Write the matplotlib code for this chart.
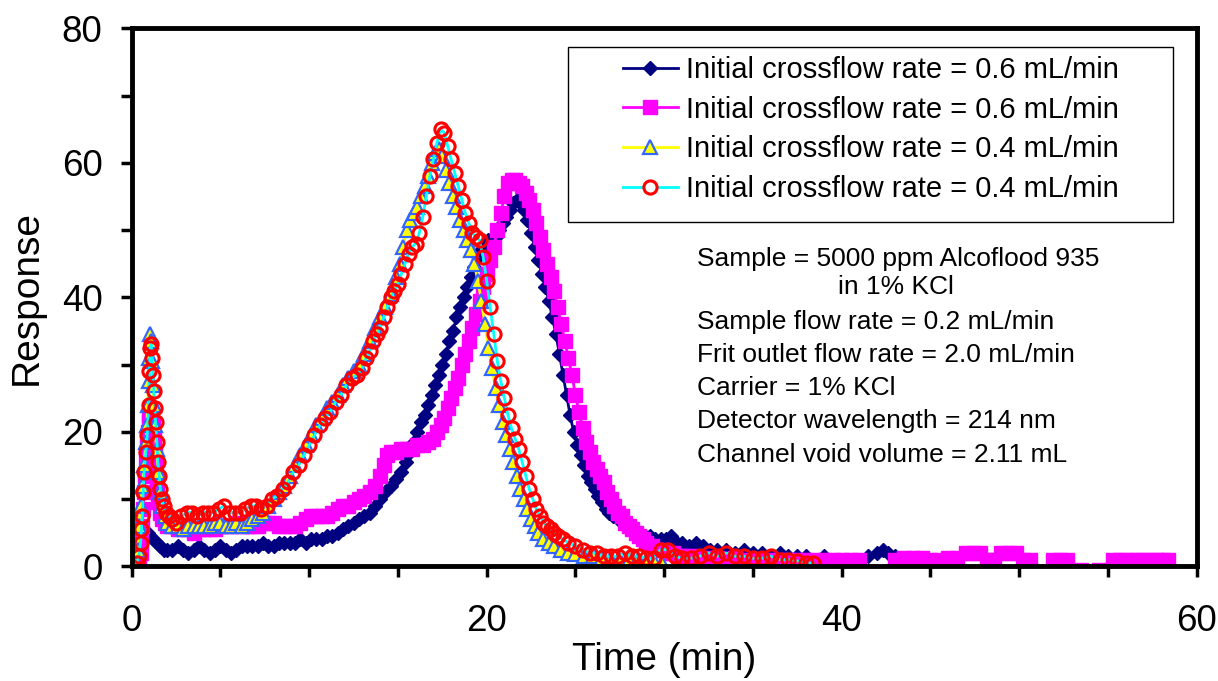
import numpy as np
import matplotlib
matplotlib.use("Agg")
import matplotlib.pyplot as plt
from matplotlib.lines import Line2D
from matplotlib.patches import Rectangle
from matplotlib.ticker import MultipleLocator

plt.rcParams['font.family'] = ['Liberation Sans', 'DejaVu Sans']

# --- data (time in min, detector response) ---
labels = ['Initial crossflow rate = 0.6 mL/min',
          'Initial crossflow rate = 0.6 mL/min',
          'Initial crossflow rate = 0.4 mL/min',
          'Initial crossflow rate = 0.4 mL/min']

navy_t = [0.4, 0.5, 0.6, 0.75, 0.9, 1.05, 1.2, 1.4, 1.6, 1.8,
          2.0, 2.3, 2.6, 2.9, 3.2, 3.5, 3.8, 4.1, 4.4, 4.7,
          5.0, 5.3, 5.6, 5.9, 6.2, 6.5, 6.8, 7.1, 7.4, 7.7,
          8.0, 8.3, 8.6, 8.9, 9.2, 9.5, 9.8, 10.1, 10.4, 10.7,
          11.0, 11.3, 11.6, 11.9, 12.2, 12.5, 12.8, 13.1, 13.4, 13.7,
          14.0, 14.3, 14.6, 14.9, 15.2, 15.45, 15.7, 15.9, 16.1, 16.3,
          16.5, 16.7, 16.9, 17.1, 17.3, 17.5, 17.7, 17.9, 18.1, 18.3,
          18.5, 18.7, 18.9, 19.1, 19.3, 19.5, 19.7, 19.9, 20.1, 20.3,
          20.5, 20.7, 20.9, 21.1, 21.3, 21.5, 21.7, 21.9, 22.1, 22.3,
          22.5, 22.7, 22.9, 23.1, 23.3, 23.5, 23.7, 23.9, 24.1, 24.3,
          24.5, 24.7, 24.9, 25.1, 25.3, 25.5, 25.7, 25.9, 26.1, 26.3,
          26.5, 26.7, 26.9, 27.1, 27.4, 27.7, 28.0, 28.3, 28.6, 28.9,
          29.2, 29.5, 29.8, 30.1, 30.4, 30.7, 31.0, 31.4, 31.8, 32.2,
          32.6, 33.0, 33.5, 34.0, 34.5, 35.0, 35.5, 36.0, 36.5, 37.0,
          37.5, 38.0, 38.5, 39.0, 39.5, 40.0, 40.5, 41.0, 41.5, 42.0,
          42.3, 42.6, 43.0, 43.4, 43.8]
navy_r = [0.5, 2.5, 4, 5, 5, 4.5, 4, 3.5, 3, 2.5,
          2.5, 2.5, 3, 2.5, 2, 2.5, 3, 2.5, 2, 2.5,
          3, 2.5, 2, 2.5, 3, 3, 3, 3, 3.5, 3,
          3, 3.5, 3.5, 3.5, 3.5, 4, 3.5, 4, 4, 4,
          4.5, 4.5, 5, 5.5, 6, 6.5, 7, 7.5, 8, 9,
          10, 11, 12, 13, 14, 15.5, 17, 18.5, 20, 21.5,
          22.5, 24, 25.5, 27, 28.5, 30, 31.5, 33.5, 35, 37,
          38.5, 40, 41.5, 43, 44.5, 46, 47, 48, 48.5, 48.5,
          49, 50, 51, 52, 53, 54, 54.5, 54, 53, 51.5,
          49.5, 47.5, 45.5, 43.5, 41.5, 39.5, 37, 34.5, 31.5, 28.5,
          25.5, 22.5, 20, 18, 16.5, 15, 13.5, 12.5, 11.5, 10.5,
          9.5, 8.5, 8, 7.5, 7, 6.5, 6, 5.5, 5, 4.5,
          4.5, 4, 4, 4, 4.5, 3.5, 3.5, 3, 3.5, 3,
          2.5, 2.5, 2.5, 2, 2.5, 2, 2, 1.5, 2, 1.5,
          1.5, 1.5, 1, 1.5, 1, 1, 1, 1, 1.5, 2,
          2.5, 2, 1.5, 1, 1]

mag_t = [0.3, 0.4, 0.5, 0.55, 0.6, 0.65, 0.7, 0.75, 0.8, 0.85,
         0.9, 0.95, 1.0, 1.1, 1.2, 1.25, 1.3, 1.35, 1.4, 1.45,
         1.5, 1.6, 1.7, 1.85, 2.0, 2.3, 2.6, 2.9, 3.2, 3.5,
         3.8, 4.1, 4.4, 4.7, 5.0, 5.3, 5.6, 5.9, 6.2, 6.5,
         6.8, 7.1, 7.4, 7.7, 8.0, 8.3, 8.6, 8.9, 9.2, 9.5,
         9.8, 10.1, 10.4, 10.7, 11.0, 11.3, 11.6, 11.9, 12.2, 12.5,
         12.8, 13.1, 13.4, 13.7, 14.0, 14.2, 14.4, 14.6, 14.9, 15.2,
         15.5, 15.8, 16.1, 16.4, 16.7, 17.0, 17.2, 17.4, 17.6, 17.8,
         18.0, 18.2, 18.4, 18.6, 18.8, 19.0, 19.2, 19.4, 19.6, 19.8,
         20.0, 20.2, 20.4, 20.6, 20.8, 21.0, 21.2, 21.4, 21.6, 21.8,
         22.0, 22.2, 22.4, 22.6, 22.8, 23.0, 23.2, 23.4, 23.6, 23.8,
         24.0, 24.2, 24.4, 24.6, 24.8, 25.0, 25.2, 25.4, 25.6, 25.8,
         26.0, 26.2, 26.4, 26.6, 26.8, 27.0, 27.2, 27.4, 27.6, 27.8,
         28.0, 28.2, 28.4, 28.6, 28.8, 29.0, 29.3, 29.6, 29.9, 30.2,
         30.5, 30.8, 31.1, 31.5, 32.0, 32.5, 33.0, 33.5, 34.0, 34.5,
         35.0, 35.5, 36.0, 36.5, 37.0, 37.5, 38.0, 38.5, 39.0, 39.5,
         40.0, 40.5, 41.0, 41.4, 41.8, 42.2, 42.6, 43.0, 43.5, 44.0,
         44.5, 45.0, 45.5, 46.0, 46.5, 47.0, 47.4, 47.8, 48.2, 48.6,
         49.0, 49.4, 49.8, 50.2, 50.6, 51.0, 51.4, 51.9, 52.3, 52.7,
         53.1, 53.5, 54.0, 54.5, 55.0, 55.3, 55.7, 56.1, 56.5, 56.9,
         57.3, 57.7, 58.1, 58.4]
mag_r = [0, 0.5, 2, 4, 6, 8.5, 11, 13.5, 16, 18,
         20, 21.5, 22.5, 22.5, 21, 19, 17, 15, 13, 11,
         9.5, 8, 7, 6.5, 6, 6, 5.5, 5.5, 5.5, 5,
         5.5, 5.5, 5.5, 5.5, 6, 6, 6, 6.5, 6, 6,
         6, 6, 6.5, 6.5, 6.5, 6, 6, 6, 6, 6.5,
         7, 7.5, 7.5, 7.5, 7.5, 8, 8.5, 9, 9, 9.5,
         10, 10.5, 11, 12, 13.5, 15, 16.5, 17, 17, 17.5,
         17.5, 17.5, 18, 18, 18.5, 19, 20, 21, 22, 23.5,
         25, 26.5, 28, 30, 31.5, 33.5, 35.5, 37.5, 39.5, 41.5,
         43.5, 45.5, 47.5, 50, 52.5, 55, 57, 57.5, 57.5, 57,
         56.5, 55.5, 54.5, 53, 51, 49, 47, 45, 43, 41,
         38.5, 36, 33.5, 31, 28.5, 25.5, 23, 20.5, 18.5, 17,
         15.5, 14.5, 13.5, 12.5, 11, 10, 9, 8, 7.5, 6.5,
         6, 5.5, 5, 4.5, 4, 3.5, 3, 2.5, 2.5, 2,
         2, 1.5, 1.5, 1.5, 1.2, 1.2, 1.2, 1, 1.2, 1,
         1, 1, 1, 1, 1, 1, 1, 1, 1, 1,
         1, 1, 1, -0.8, -0.8, -0.8, -0.8, 1, 1.2, 1.2,
         1.2, 1, 1, 1.2, 1.2, 2, 2, 2, 1, 1,
         2, 2, 2, 1, 1, -0.8, -0.8, 1, 1, 1,
         -0.8, -0.5, -0.8, -0.5, -0.8, 1, 1, 1, 1, 1,
         1, 1, 1, 1]

tri_t = [0.25, 0.35, 0.4, 0.5, 0.6, 0.7, 0.8, 0.85, 0.9, 0.95,
         1.0, 1.05, 1.1, 1.15, 1.2, 1.25, 1.3, 1.4, 1.5, 1.6,
         1.7, 1.85, 2.0, 2.3, 2.6, 2.9, 3.2, 3.5, 3.8, 4.1,
         4.4, 4.7, 5.0, 5.3, 5.6, 5.9, 6.2, 6.5, 6.8, 7.1,
         7.4, 7.7, 8.0, 8.3, 8.6, 8.9, 9.2, 9.5, 9.8, 10.1,
         10.4, 10.7, 11.0, 11.3, 11.6, 11.9, 12.2, 12.5, 12.8, 13.1,
         13.4, 13.7, 14.0, 14.3, 14.6, 14.9, 15.1, 15.3, 15.5, 15.7,
         15.9, 16.1, 16.3, 16.5, 16.7, 16.9, 17.1, 17.3, 17.5, 17.7,
         17.9, 18.1, 18.3, 18.5, 18.7, 18.9, 19.1, 19.3, 19.5, 19.7,
         19.9, 20.1, 20.3, 20.5, 20.7, 20.9, 21.1, 21.3, 21.5, 21.7,
         21.9, 22.1, 22.3, 22.5, 22.7, 22.9, 23.2, 23.5, 23.8, 24.2,
         24.6, 25.0, 25.5, 26.0, 26.5, 27.0, 27.5, 28.0, 28.5, 29.0,
         29.5, 29.9]
tri_r = [0.5, 2.5, 6, 9, 12, 15, 18.5, 21, 24, 27.5,
         31, 34.5, 33.5, 30.5, 27, 24, 21, 17.5, 14, 11,
         9, 7.5, 6.5, 6, 6, 5.5, 6, 6, 6, 6,
         6, 6.5, 6.5, 6, 6, 6.5, 6, 6.5, 7, 7.5,
         8, 9, 10, 11, 12, 13.5, 15, 16.5, 18, 19.5,
         21, 22, 23.5, 24.5, 25.5, 27, 28, 29, 30, 31.5,
         33.5, 35.5, 37, 38.5, 40.5, 43, 45, 47.5, 50, 51.5,
         52.5, 53.5, 55, 56.5, 58, 60, 61.5, 62, 61, 59,
         57, 55, 53.5, 51.5, 50, 48.5, 47, 45, 42.5, 39.5,
         36, 32.5, 29.5, 26.5, 24, 21.5, 19.5, 17.5, 15.5, 13.5,
         11.5, 10, 8.5, 7, 6, 5, 4, 3.5, 3, 2.5,
         2, 1.8, 1.5, 1.5, 1.2, 1.2, 1, 1, 1, 0.8,
         0.5, 0.5]

red_t = [0.3, 0.4, 0.5, 0.55, 0.6, 0.65, 0.7, 0.8, 0.88, 0.95,
         1.0, 1.05, 1.1, 1.15, 1.2, 1.25, 1.3, 1.35, 1.42, 1.48,
         1.55, 1.62, 1.7, 1.8, 1.95, 2.1, 2.3, 2.5, 2.8, 3.1,
         3.4, 3.7, 4.0, 4.3, 4.6, 4.9, 5.2, 5.5, 5.8, 6.1,
         6.4, 6.7, 7.0, 7.3, 7.6, 7.9, 8.2, 8.5, 8.8, 9.1,
         9.4, 9.7, 10.0, 10.3, 10.6, 10.9, 11.2, 11.5, 11.8, 12.1,
         12.4, 12.7, 13.0, 13.2, 13.4, 13.6, 13.8, 14.0, 14.2, 14.4,
         14.6, 14.8, 15.0, 15.2, 15.4, 15.6, 15.8, 16.0, 16.2, 16.4,
         16.6, 16.8, 17.0, 17.2, 17.4, 17.6, 17.8, 18.0, 18.2, 18.4,
         18.6, 18.8, 19.0, 19.2, 19.4, 19.6, 19.8, 20.0, 20.2, 20.4,
         20.6, 20.8, 21.0, 21.2, 21.4, 21.6, 21.8, 22.0, 22.2, 22.4,
         22.6, 22.8, 23.0, 23.2, 23.4, 23.6, 23.8, 24.0, 24.3, 24.6,
         25.0, 25.4, 25.8, 26.2, 26.6, 27.0, 27.4, 27.8, 28.2, 28.6,
         29.0, 29.4, 29.8, 30.2, 30.6, 31.0, 31.5, 32.0, 32.5, 33.0,
         33.5, 34.0, 34.5, 35.0, 35.5, 36.0, 36.5, 37.0, 37.5, 38.0,
         38.4]
red_r = [0.5, 1.5, 3.5, 5.5, 7.5, 11, 14, 17, 19.5, 24,
         29, 32.5, 33, 31, 28.5, 26, 23.5, 21.5, 18.5, 15.5,
         13.5, 11.5, 10, 9, 8, 7.5, 7, 6.5, 7.5, 8,
         8, 7.5, 8, 8, 8, 8.5, 9, 8, 8, 8,
         8.5, 9, 9, 8.5, 9, 10, 10.5, 11.5, 12.5, 14,
         15, 16.5, 18, 19.5, 21, 22, 23, 24.5, 25.5, 27,
         28, 28.5, 29.5, 31, 32, 33.5, 34.5, 35.5, 37, 38.5,
         40, 41, 42, 43.5, 45, 46.5, 47.5, 48, 49.5, 52,
         55, 58, 60.5, 63, 65, 64.5, 62.5, 60.5, 58.5, 56.5,
         54.5, 52.5, 51, 49.5, 49, 48.5, 46, 42.5, 38.5, 34.5,
         30.5, 27.5, 25, 22.5, 20.5, 19, 17.5, 15.5, 13.5, 11.5,
         10, 8.5, 7.5, 6.5, 6, 5.5, 5, 4.5, 4, 3.5,
         3, 2.5, 2, 2, 1.5, 1.5, 1.5, 2, 1.5, 1.5,
         1.2, 1.2, 2.5, 2.5, 1.5, 1.2, 1.2, 1.5, 2, 1.5,
         2, 1.5, 1.5, 1.2, 1.2, 1.5, 1, 1, 0.8, 0.5,
         0.5]

notes = ['Sample = 5000 ppm Alcoflood 935',
         'in 1% KCl',
         'Sample flow rate = 0.2 mL/min',
         'Frit outlet flow rate = 2.0 mL/min',
         'Carrier = 1% KCl',
         'Detector wavelength = 214 nm',
         'Channel void volume = 2.11 mL']

# --- styles ---
navy_style = dict(color='#000080', lw=2, marker='D', ms=7.5, mfc='#000080',
                  mec='#000080', mew=1)
mag_style = dict(color='#FF00FF', lw=2, marker='s', ms=10.5, mfc='#FF00FF',
                 mec='#FF00FF', mew=1)
tri_style = dict(color='#FFFF00', lw=2, marker='^', ms=9.5, mfc='#FFFF00',
                 mec='#3366FF', mew=1.6)
red_style = dict(color='#00FFFF', lw=2, marker='o', ms=9.5, mfc='none',
                 mec='#FF0000', mew=2.2)

fig = plt.figure(figsize=(12.18, 6.81), dpi=100)
ax = fig.add_axes([0.1081, 0.1684, 0.8744, 0.790])

ax.plot(navy_t, navy_r, zorder=2, **navy_style)
ax.plot(mag_t, mag_r, zorder=3, **mag_style)
ax.plot(tri_t, tri_r, zorder=4, **tri_style)
ax.plot(red_t, red_r, zorder=5, **red_style)

ax.set_xlim(0, 60)
ax.set_ylim(0, 80)
ax.xaxis.set_major_locator(MultipleLocator(20))
ax.xaxis.set_minor_locator(MultipleLocator(5))
ax.yaxis.set_major_locator(MultipleLocator(20))
ax.yaxis.set_minor_locator(MultipleLocator(10))
ax.tick_params(which='both', direction='out', length=8, width=2.5,
               labelsize=26.5, color='black')
ax.tick_params(axis='x', which='major', pad=19)
ax.tick_params(axis='y', which='major', pad=13)
for sp in ax.spines.values():
    sp.set_linewidth(3.5)
    sp.set_zorder(10)

ax.set_xlabel('Time (min)', fontsize=28, labelpad=2)
ax.set_ylabel('Response', fontsize=28, labelpad=12)

# legend
handles = [Line2D([], [], **navy_style),
           Line2D([], [], **mag_style),
           Line2D([], [], **tri_style),
           Line2D([], [], **dict(red_style, mfc='white'))]
leg = ax.legend(handles, labels, loc='upper left', bbox_to_anchor=(0.461, 0.9485),
                frameon=False, fontsize=21, handlelength=1.89, handletextpad=0.28,
                labelspacing=0.4, borderpad=0, borderaxespad=0)
leg.set_zorder(12)
ax.add_patch(Rectangle((0.4097, 0.640), 0.5683, 0.326, transform=ax.transAxes,
                       fill=True, fc='white', ec='black', lw=1, zorder=11))

# conditions text
note_y = [0.559, 0.507, 0.442, 0.380, 0.318, 0.2565, 0.194]
for i, line in enumerate(notes):
    x = 0.663 if i == 1 else 0.531
    ax.text(x, note_y[i], line, transform=ax.transAxes, fontsize=19,
            va='baseline', ha='left', zorder=12)

fig.savefig('out.png', dpi=100)
